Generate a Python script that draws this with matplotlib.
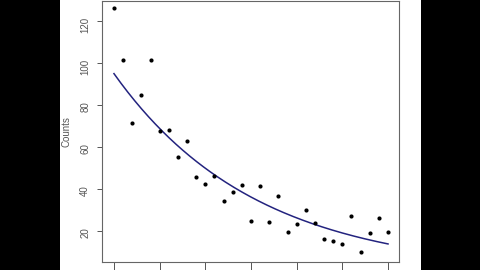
import matplotlib
matplotlib.use("Agg")
import matplotlib.pyplot as plt
from matplotlib.patches import Rectangle
import numpy as np

# observations (x = 0..30)
days = list(range(31))
counts = [126.4, 101.6, 71.6, 85.0, 101.3, 67.6, 68.0, 55.2, 62.9, 45.6,
          42.1, 46.2, 34.1, 38.3, 41.8, 24.6, 41.4, 24.3, 36.7, 19.5,
          23.0, 29.7, 23.5, 16.0, 15.2, 13.7, 26.9, 10.0, 18.8, 26.0, 19.4]

# fitted exponential decay model, parameters
fit_a = 95.0
fit_k = 0.0645

y_ticks = [20, 40, 60, 80, 100, 120]
x_ticks = [0, 5, 10, 15, 20, 25, 30]

plt.rcParams["font.family"] = ["Liberation Sans", "DejaVu Sans"]

fig = plt.figure(figsize=(4.8, 2.7), dpi=100)
fig.patch.set_facecolor("black")
# white plot page inside the black letterbox
fig.patches.append(Rectangle((60 / 480, 0), 361 / 480, 1, transform=fig.transFigure,
                             facecolor="white", edgecolor="none", zorder=-10))

ax = fig.add_axes([102 / 480, 8 / 270, 297 / 480, 261.5 / 270])
ax.set_facecolor("white")

ax.scatter(days, counts, s=9, color="black", zorder=3, linewidths=0)
xs = np.linspace(min(days), max(days), 200)
ax.plot(xs, fit_a * np.exp(-fit_k * xs), color="#23237f", lw=1.1, zorder=2)

ax.set_xlim(-1.31, 31.2)
ax.set_ylim(5.1, 129.9)
ax.set_xticks(x_ticks)
ax.set_yticks(y_ticks)
ax.tick_params(axis="y", labelrotation=90, labelsize=7, length=3.5, pad=5,
               colors="#555555", width=0.7)
ax.tick_params(axis="x", labelbottom=False, length=8, colors="#555555", width=0.7)
for s in ax.spines.values():
    s.set_color("#666666")
    s.set_linewidth(0.8)

ax.set_ylabel("Counts", fontsize=7, color="#555555")
ax.yaxis.label.set_va("center")
ax.yaxis.set_label_coords((67 - 102) / 297, 0.5)

fig.savefig("out.png", dpi=100, facecolor=fig.get_facecolor())
